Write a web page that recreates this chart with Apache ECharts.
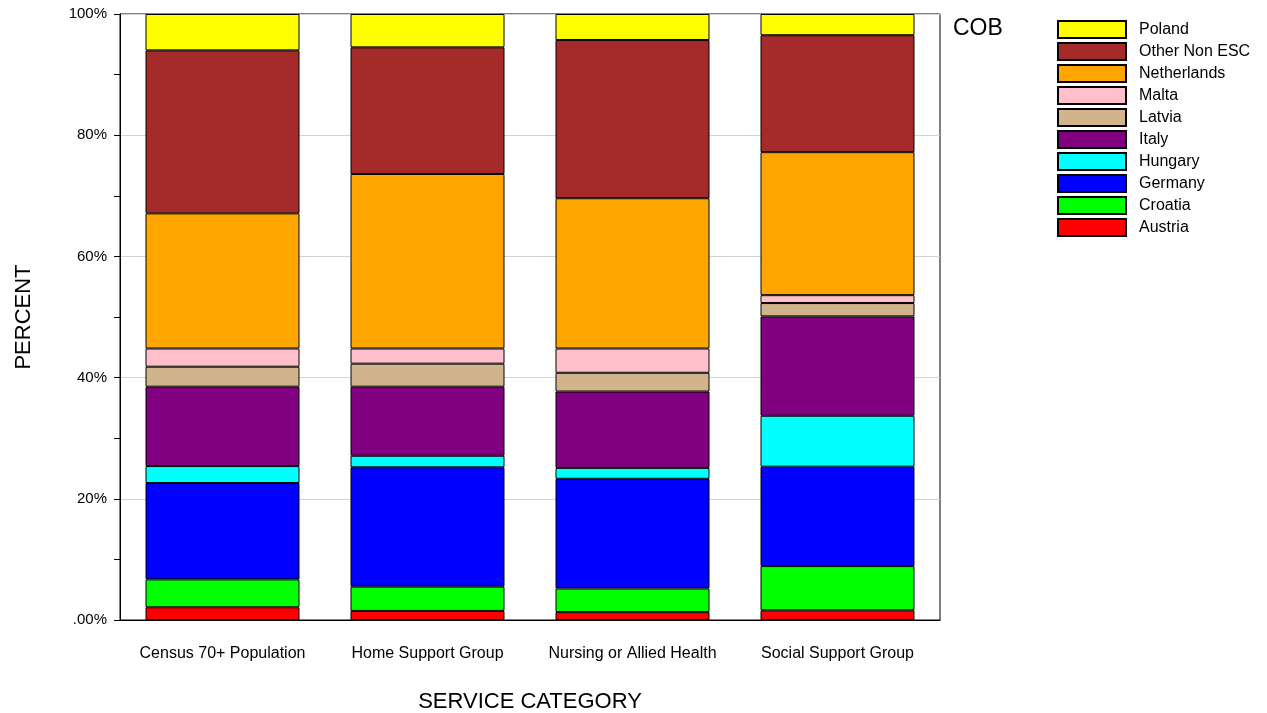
<!DOCTYPE html>
<html>
<head>
<meta charset="utf-8">
<script src="https://cdn.jsdelivr.net/npm/echarts@6/dist/echarts.min.js"></script>
<style>html,body{margin:0;padding:0;background:#fff;}#c{width:1267px;height:713px;}</style>
</head>
<body>
<div id="c"></div>
<script>
const categories = ['Census 70+ Population', 'Home Support Group', 'Nursing or Allied Health', 'Social Support Group'];
const austria     = [2.1, 1.5, 1.3, 1.6];
const croatia     = [4.6, 4.0, 3.9, 7.3];
const germany     = [15.9, 19.7, 18.1, 16.4];
const hungary     = [2.8, 1.9, 1.8, 8.4];
const italy       = [13.1, 11.4, 12.6, 16.4];
const latvia      = [3.3, 3.8, 3.1, 2.2];
const malta       = [3.0, 2.5, 4.0, 1.3];
const netherlands = [22.3, 28.8, 24.8, 23.6];
const otherNonESC = [26.9, 20.9, 26.1, 19.3];
const poland      = [6.0, 5.5, 4.3, 3.5];
const seriesNames = ['Austria', 'Croatia', 'Germany', 'Hungary', 'Italy', 'Latvia', 'Malta', 'Netherlands', 'Other Non ESC', 'Poland'];
const seriesData = [austria, croatia, germany, hungary, italy, latvia, malta, netherlands, otherNonESC, poland];
const colors = ['#ff0000', '#00ff00', '#0000ff', '#00ffff', '#800080', '#d2b48c', '#ffc0cb', '#ffa500', '#a52a2a', '#ffff00'];
const yTicks = [0, 20, 40, 60, 80, 100];

const font = 'Liberation Sans, Arial, sans-serif';
const chart = echarts.init(document.getElementById('c'));
chart.setOption({
  animation: false,
  backgroundColor: '#fff',
  textStyle: { fontFamily: font, color: '#000' },
  title: {
    text: 'COB', left: 953, top: 17, padding: 0,
    textStyle: { fontFamily: font, fontSize: 23, fontWeight: 'normal', color: '#000' }
  },
  legend: {
    orient: 'vertical', left: 1057, top: 20, padding: 0,
    itemWidth: 68, itemHeight: 17, itemGap: 3,
    data: seriesNames.slice().reverse(),
    textStyle: { fontFamily: font, fontSize: 16, lineHeight: 17, color: '#000', padding: [0, 0, 0, 8] },
    icon: 'rect'
  },
  grid: {
    left: 120, right: 327, top: 14, bottom: 93,
    outerBoundsMode: 'none', containLabel: false,
    show: true, borderColor: '#000', borderWidth: 1, backgroundColor: 'transparent'
  },
  xAxis: {
    type: 'category', data: categories,
    name: 'SERVICE CATEGORY', nameLocation: 'middle', nameGap: 71,
    nameTextStyle: { fontFamily: font, fontSize: 22, color: '#000' },
    axisLine: { lineStyle: { color: '#000', width: 1 } },
    axisTick: { show: false },
    axisLabel: { fontFamily: font, fontSize: 16, color: '#000', margin: 26, interval: 0, hideOverlap: false }
  },
  yAxis: {
    type: 'value', min: yTicks[0], max: yTicks[yTicks.length - 1], interval: 20,
    name: 'PERCENT', nameLocation: 'middle', nameGap: 85, nameRotate: 90,
    nameTextStyle: { fontFamily: font, fontSize: 22, color: '#000' },
    axisLine: { show: true, lineStyle: { color: '#000', width: 1 } },
    axisTick: { show: true, length: 6, lineStyle: { color: '#000' } },
    minorTick: { show: true, splitNumber: 2, length: 6, lineStyle: { color: '#000' } },
    splitLine: { show: true, lineStyle: { color: '#d3d3d3', width: 1 } },
    axisLabel: {
      fontFamily: font, fontSize: 15, color: '#000', margin: 13,
      formatter: v => v === 0 ? '.00%' : v + '%'
    }
  },
  series: seriesNames.map((n, i) => ({
    name: n, type: 'bar', stack: 'total', data: seriesData[i],
    barWidth: 154,
    itemStyle: { color: colors[i], borderColor: '#000', borderWidth: 1 },
    emphasis: { disabled: true }
  }))
});
</script>
</body>
</html>
